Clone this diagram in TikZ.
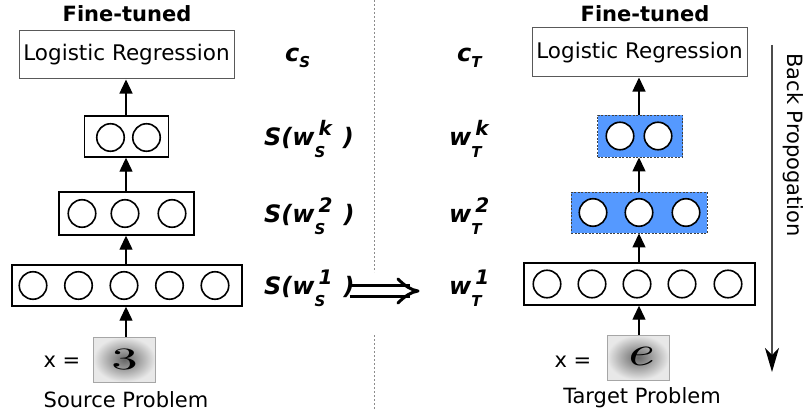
\documentclass[tikz,border=0pt]{standalone}
\usepackage{fontspec}
\setmainfont{DejaVu Sans}
\newfontfamily\handfont{lmroman10-regular}[Extension=.otf, ItalicFont=lmroman10-italic]
\usetikzlibrary{arrows.meta,calc}
\definecolor{layerblue}{HTML}{5599FF}

% weight symbol with superscript (layer) and subscript (domain)
\newcommand\supsub[2]{%
  \setbox0=\hbox{\fontsize{20}{20}\selectfont #1}%
  \setbox2=\hbox{\fontsize{15}{15}\selectfont #2}%
  \dimen0=\wd0 \advance\dimen0 by 4pt
  \ifdim\wd2>\dimen0 \dimen0=\wd2 \fi
  \hbox to \dimen0{\rlap{\kern4pt\raise10pt\copy0}\lower12pt\copy2\hss}}
\newcommand\csub[1]{\lower6pt\hbox{\fontsize{15}{15}\selectfont #1}}

\begin{document}
\begin{tikzpicture}[x=1pt,y=-1pt,
  caption/.style={font=\fontsize{21}{21}\selectfont, inner sep=0pt},
  header/.style={font=\bfseries\fontsize{21}{21}\selectfont, inner sep=0pt},
  lrbox/.style={draw=black!65, line width=1pt, minimum width=215pt, minimum height=48pt,
    inner sep=0pt, font=\fontsize{21.5}{21.5}\selectfont},
  layer/.style={draw=black, line width=1.4pt, fill=white, inner sep=0pt},
  tuned/.style={layer, fill=layerblue, draw=black!75, line width=0.9pt, dash pattern=on 2pt off 1.5pt},
  unit/.style={circle, draw=black, line width=1.6pt, fill=white, minimum size=27.5pt, inner sep=0pt},
  feed/.style={-{Triangle[length=14pt,width=13pt]}, line width=1.3pt},
  sample/.style={draw=black!35, line width=0.6pt, inner color=black!60, outer color=black!9,
    minimum width=62pt, minimum height=45pt, inner sep=0pt},
  wlabel/.style={anchor=base west, inner sep=0pt, font=\bfseries\itshape\fontsize{24}{24}\selectfont},
  divider/.style={draw=black!45, line width=1pt, dash pattern=on 2pt off 2pt},
  transfer/.style={line width=3pt, line cap=butt},
  transferhead/.style={line width=3pt, line cap=round, line join=round},
  backprop/.style={draw=black!70, line width=1.3pt, -{Stealth[length=24pt,width=14pt,inset=7pt,black]}}
]
\fill[white] (0,0) rectangle (806,420);
\useasboundingbox (0,0) rectangle (806,420);

% ---------- source network ----------
\node[header] (ftL) at (127,14) {Fine-tuned};
\node[lrbox] (lrL) at (126.5,55) {Logistic Regression};
\node[layer, minimum width=84pt, minimum height=41pt] (lkL) at (126.5,136.5) {};
\node[layer, minimum width=135pt, minimum height=43pt] (l2L) at (126.5,213.5) {};
\node[layer, minimum width=230pt, minimum height=41pt] (l1L) at (127,285.5) {};
\foreach \dx [count=\i] in {-16,20} \node[unit] (lkL-\i) at ($(lkL)+(\dx,1)$) {};
\foreach \dx [count=\i] in {-44.5,-1.5,45.5} \node[unit] (l2L-\i) at ($(l2L)+(\dx,0)$) {};
\foreach \dx [count=\i] in {-94,-48.5,-3,42.5,88} \node[unit] (l1L-\i) at ($(l1L)+(\dx,0)$) {};
\node[sample] (imgL) at (124.5,359.5) {\scalebox{1.7}[1]{\handfont\fontsize{31}{31}\selectfont 3}};
\node[caption] (xL) at (62,362) {x =};
\node[caption] (srcL) at (126,400) {Source Problem};

\draw[feed] (imgL.north -| 126,0) -- (l1L.south -| 126,0);
\draw[feed] (l1L.north -| 126,0) -- (l2L.south -| 126,0);
\draw[feed] (l2L.north -| 126,0) -- (lkL.south -| 126,0);
\draw[feed] (lkL.north -| 126,0) -- (lrL.south -| 126,0);

% ---------- target network ----------
\node[header] (ftR) at (645,14) {Fine-tuned};
\node[lrbox, minimum height=49pt] (lrR) at (639.5,52.5) {Logistic Regression};
\node[tuned, minimum width=85pt, minimum height=42pt] (lkR) at (640,136) {};
\node[tuned, minimum width=136pt, minimum height=41pt] (l2R) at (639,212.5) {};
\node[layer, minimum width=231pt, minimum height=42pt] (l1R) at (639.5,284) {};
\foreach \dx [count=\i] in {-20,18} \node[unit] (lkR-\i) at ($(lkR)+(\dx,0)$) {};
\foreach \dx [count=\i] in {-46,0,47} \node[unit] (l2R-\i) at ($(l2R)+(\dx,0)$) {};
\foreach \dx [count=\i] in {-92.5,-47.5,-2.5,42.5,88.5} \node[unit] (l1R-\i) at ($(l1R)+(\dx,0)$) {};
\node[sample] (imgR) at (638,357.5) {\raisebox{2pt}{\scalebox{1.45}[1]{\handfont\itshape\fontsize{42}{42}\selectfont e}}};
\node[caption] (xR) at (573,362) {x =};
\node[caption] (tgtR) at (642,398) {Target Problem};

\draw[feed] (imgR.north -| 639,0) -- (l1R.south -| 639,0);
\draw[feed] (l1R.north -| 639,0) -- (l2R.south -| 639,0);
\draw[feed] (l2R.north -| 639,0) -- (lkR.south -| 639,0);
\draw[feed] (lkR.north -| 639,0) -- (lrR.south -| 639,0);

% ---------- weight labels ----------
\node[wlabel] (cS) at (285,62) {c\csub{S}};
\node[wlabel] (cT) at (457,62) {c\csub{T}};
\node[wlabel] (skL) at (264,145) {S(w\supsub{k}{S}\kern11pt)};
\node[wlabel] (s2L) at (264,222) {S(w\supsub{2}{S}\kern11pt)};
\node[wlabel] (s1L) at (264,294) {S(w\supsub{1}{S}\kern11pt)};
\node[wlabel] (wkR) at (449,145) {w\supsub{k}{T}};
\node[wlabel] (w2R) at (449,222) {w\supsub{2}{T}};
\node[wlabel] (w1R) at (449,294) {w\supsub{1}{T}};

% double arrow from source weights to target weights
\coordinate (trS) at ([shift={(-5pt,3pt)}]s1L.base east);
\coordinate (trE) at ([shift={(-31pt,3pt)}]w1R.base west);
\draw[transfer] ($(trS)+(0,-5.5)$) -- ($(trE)+(-8,-5.5)$);
\draw[transfer] ($(trS)+(0,5.5)$) -- ($(trE)+(-8,5.5)$);
\draw[transferhead] ($(trE)+(-20,-12)$) .. controls ($(trE)+(-13,-5)$) and ($(trE)+(-7,-1)$) .. (trE)
  .. controls ($(trE)+(-7,1)$) and ($(trE)+(-13,5)$) .. ($(trE)+(-20,12)$);

% ---------- divider between source and target ----------
\coordinate (dvTop) at (374,0);
\coordinate (dvMid) at (374,272);
\coordinate (dvLow) at (374,335);
\coordinate (dvEnd) at (374,410);
\draw[divider] (dvTop) -- (dvMid);
\draw[divider] (dvLow) -- (dvEnd);

% ---------- back propagation ----------
\coordinate (bpTop) at (772,45);
\coordinate (bpBot) at (772,372);
\draw[backprop] (bpTop) -- (bpBot);
\node[caption, rotate=-90] (bpText) at (793,145) {Back Propogation};
\end{tikzpicture}
\end{document}
